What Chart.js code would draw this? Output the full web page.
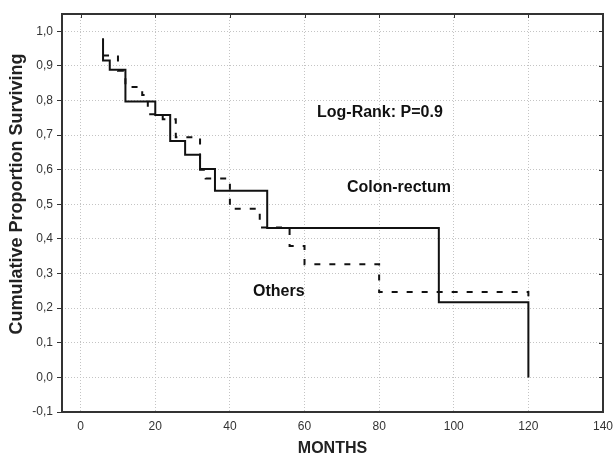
<!DOCTYPE html>
<html>
<head>
<meta charset="utf-8">
<script src="https://cdn.jsdelivr.net/npm/chart.js@4.4.1/dist/chart.umd.min.js"></script>
<style>
  html, body { margin: 0; padding: 0; background: #fff; }
  #box { width: 615px; height: 457px; position: relative; }
</style>
</head>
<body>
<div id="box"><canvas id="km"></canvas></div>
<script>
// Kaplan-Meier steps (month, survival from that month on)
const colonMonths = [6, 6, 7.8, 12, 20, 24, 28, 32, 36, 50, 96, 120]
const colonSurv = [0.98, 0.916, 0.889, 0.797, 0.758, 0.683, 0.643, 0.602, 0.539, 0.432, 0.217, 0.0]

const othersMonths = [6, 10, 12, 16.5, 18, 22, 25.5, 32, 33.5, 40, 48, 56, 60, 80, 120, 120]
const othersSurv = [0.93, 0.886, 0.839, 0.816, 0.76, 0.746, 0.694, 0.6, 0.575, 0.487, 0.433, 0.38, 0.327, 0.247, 0.247, 0.234]

const xTickStep = 20
const yTickStep = 0.1

// text notes placed in data units
const notes = [
    { text: 'Log-Rank: P=0.9', x: 80.2, y: 0.764 },
    { text: 'Colon-rectum', x: 85.3, y: 0.547 },
    { text: 'Others', x: 53.1, y: 0.249 }
]
const yTitle = 'Cumulative Proportion Surviving'

const pairs = (xs, ys) => xs.map((x, i) => ({ x: x, y: ys[i] }))

const frame = {
    id: 'frame',
    afterDatasetsDraw(chart) {
        const { ctx, chartArea: a, scales } = chart
        ctx.save()
        // small inward ticks on right and top
        ctx.strokeStyle = '#333'
        ctx.lineWidth = 1
        scales.y.ticks.forEach(t => {
            const py = Math.round(scales.y.getPixelForValue(t.value)) + 0.5
            ctx.beginPath(); ctx.moveTo(a.right - 4, py); ctx.lineTo(a.right, py); ctx.stroke()
        })
        scales.x.ticks.forEach(t => {
            const px = Math.round(scales.x.getPixelForValue(t.value)) + 0.5
            ctx.beginPath(); ctx.moveTo(px, a.top); ctx.lineTo(px, a.top + 4); ctx.stroke()
        })
        ctx.strokeStyle = '#333'
        ctx.lineWidth = 2
        ctx.strokeRect(a.left, a.top, a.right - a.left, a.bottom - a.top)
        ctx.fillStyle = '#111'
        ctx.font = 'bold 16px "Liberation Sans", Arial, sans-serif'
        ctx.textAlign = 'center'
        ctx.textBaseline = 'middle'
        notes.forEach(n => {
            ctx.fillText(n.text, scales.x.getPixelForValue(n.x), scales.y.getPixelForValue(n.y))
        })
        // y axis title, sits a bit above the middle like the original
        ctx.fillStyle = '#222'
        ctx.font = 'bold 18px "Liberation Sans", Arial, sans-serif'
        ctx.translate(17, scales.y.getPixelForValue(0.53))
        ctx.rotate(-Math.PI / 2)
        ctx.fillText(yTitle, 0, 0)
        ctx.restore()
    }
}

const tickFont = { family: '"Liberation Sans", Arial, sans-serif', size: 12 }
const titleFont = { family: '"Liberation Sans", Arial, sans-serif', size: 16, weight: 'bold', lineHeight: 1 }

new Chart(document.getElementById('km'), {
    type: 'line',
    data: {
        datasets: [
            {
                label: 'Colon-rectum',
                data: pairs(colonMonths, colonSurv),
                borderColor: '#111',
                borderWidth: 2,
                stepped: 'before',
                pointRadius: 0,
                fill: false
            }, {
                label: 'Others',
                data: pairs(othersMonths, othersSurv),
                borderColor: '#111',
                borderWidth: 2,
                borderDash: [6, 9],
                stepped: 'before',
                pointRadius: 0,
                fill: false
            }
        ]
    },
    options: {
        responsive: true,
        maintainAspectRatio: false,
        animation: false,
        layout: { padding: { top: 14, right: 12, left: 0, bottom: 0 } },
        plugins: {
            legend: { display: false },
            tooltip: { enabled: false }
        },
        scales: {
            x: {
                type: 'linear',
                min: -5,
                max: 140,
                afterFit: s => { s.height = 45; s.paddingLeft = 0; s.paddingRight = 0 },
                border: { display: false, dash: [1, 2] },
                grid: { color: '#c4c4c4', drawTicks: false, tickBorderDash: [] },
                ticks: {
                    stepSize: xTickStep,
                    includeBounds: false,
                    padding: 7,
                    color: '#333',
                    font: tickFont,
                    maxRotation: 0
                },
                title: {
                    display: true,
                    text: 'MONTHS',
                    color: '#222',
                    font: titleFont,
                    padding: { top: 0, bottom: 0 }
                }
            },
            y: {
                min: -0.1,
                max: 1.05,
                afterFit: s => { s.width = 62 },
                border: { display: false, dash: [1, 2] },
                grid: { color: '#c4c4c4', tickColor: '#333', tickLength: 5, tickBorderDash: [] },
                ticks: {
                    stepSize: yTickStep,
                    includeBounds: false,
                    padding: 4,
                    color: '#333',
                    font: tickFont,
                    callback: v => v.toFixed(1).replace('.', ',')
                }
            }
        }
    },
    plugins: [frame]
});
</script>
</body>
</html>
